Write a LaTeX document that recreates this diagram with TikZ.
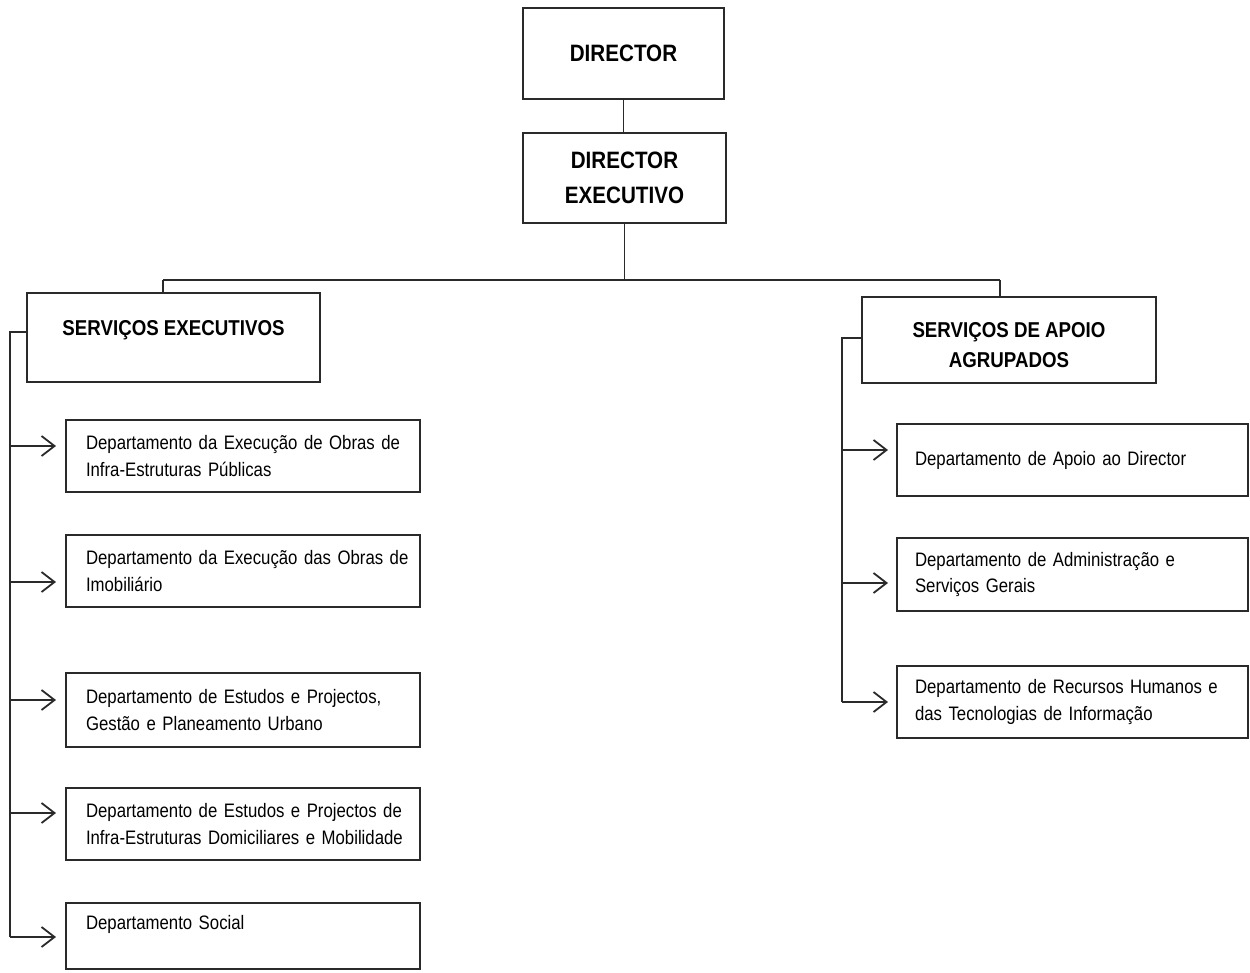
\documentclass[tikz,border=0pt]{standalone}
\usepackage{fontspec}
\setmainfont{Liberation Sans}
\newfontfamily\regf{Liberation Sans}[FakeStretch=0.86]
\newfontfamily\boldf{Liberation Sans}[FakeStretch=0.87]
\usetikzlibrary{arrows.meta,calc}
\definecolor{linec}{HTML}{2A2A2A}
\newcommand{\deptfont}{\regf\fontsize{19.5}{26.5}\selectfont\spaceskip=4pt plus 1pt minus 1pt\relax}
\begin{document}
\begin{tikzpicture}[x=1pt,y=-1pt,
  every node/.style={inner sep=0pt, outer sep=0pt},
  conn/.style={draw=linec, line width=1.3pt},
  arr/.style={conn, -{Straight Barb[length=13pt,width=20pt,line width=1.8pt]}, line width=1.8pt},
  hbox/.style={draw=linec, line width=1.3pt, align=center,
    font=\boldf\bfseries\fontsize{23.7}{35}\selectfont},
  sbox/.style={draw=linec, line width=1.3pt, align=center,
    font=\boldf\bfseries\fontsize{21.5}{30}\selectfont},
  lbox/.style={draw=linec, line width=1.3pt, align=left, inner xsep=20pt,
    text width=314pt, font=\deptfont},
  rbox/.style={draw=linec, line width=1.3pt, align=left, inner xsep=18pt,
    text width=315pt, font=\deptfont}
]
\useasboundingbox[fill=white] (0,0) rectangle (1250,972);

% top boxes
\node[hbox, minimum width=201pt, minimum height=91pt] (dir) at (623.5,53.5) {DIRECTOR};
\node[hbox, minimum width=203pt, minimum height=90pt] (de) at (624.5,178) {DIRECTOR\\EXECUTIVO};

% service boxes
\node[sbox, minimum width=293pt, minimum height=89pt, text height=15pt, text depth=20pt] (se) at (173.5,337.5) {SERVI\c{C}OS EXECUTIVOS};
\node[sbox, minimum width=294pt, minimum height=86pt] (sda) at (1009,340) {\rule{0pt}{25pt}SERVI\c{C}OS DE APOIO\\AGRUPADOS};

% left departments
\node[lbox, minimum height=72pt] (b1) at (243,456) {\mbox{Departamento da Execução de Obras de}\\\mbox{Infra-Estruturas Públicas}};
\node[lbox, minimum height=72pt] (b2) at (243,571) {\mbox{Departamento da Execução das Obras de}\\\mbox{Imobiliário}};
\node[lbox, minimum height=74pt] (b3) at (243,710) {\mbox{Departamento de Estudos e Projectos,}\\\mbox{Gestão e Planeamento Urbano}};
\node[lbox, minimum height=72pt] (b4) at (243,824) {\mbox{Departamento de Estudos e Projectos de}\\\mbox{Infra-Estruturas Domiciliares e Mobilidade}};
\node[lbox, minimum height=66pt] (b5) at (243,936) {\mbox{Departamento Social}\\\mbox{}};

% right departments
\node[rbox, minimum height=72pt] (ra) at (1072.5,460) {\mbox{Departamento de Apoio ao Director}};
\node[rbox, minimum height=73pt] (rb) at (1072.5,574.5) {\mbox{Departamento de Administração e}\\\mbox{Serviços Gerais}};
\node[rbox, minimum height=72pt] (rc) at (1072.5,702) {\mbox{Departamento de Recursos Humanos e}\\\mbox{das Tecnologias de Informação}};

% top connectors
\coordinate (bl) at (163,280);
\coordinate (br) at (1000,280);
\draw[conn] (dir.south) -- (dir.south |- de.north);
\draw[conn] (de.south) -- (de.south |- bl);
\draw[conn] (bl) -- (br);
\draw[conn] (bl) -- (bl |- se.north);
\draw[conn] (br) -- (br |- sda.north);

% left trunk
\coordinate (sew) at ([yshift=5.5pt]se.west);
\coordinate (tl) at ([xshift=-17pt]sew);
\coordinate (a1) at ([xshift=-10pt,yshift=10pt]b1.west);
\coordinate (a2) at ([xshift=-10pt,yshift=-11pt]b2.west);
\coordinate (a3) at ([xshift=-10pt,yshift=10pt]b3.west);
\coordinate (a4) at ([xshift=-10pt,yshift=11pt]b4.west);
\coordinate (a5) at ([xshift=-10pt,yshift=-1pt]b5.west);
\draw[conn] (sew) -- (tl) -- (tl |- a5);
\draw[arr] (a1 -| tl) -- (a1);
\draw[arr] (a2 -| tl) -- (a2);
\draw[arr] (a3 -| tl) -- (a3);
\draw[arr] (a4 -| tl) -- (a4);
\draw[arr] (a5 -| tl) -- (a5);

% right trunk
\coordinate (sdaw) at ([yshift=2pt]sda.west);
\coordinate (tr) at ([xshift=-20pt]sdaw);
\coordinate (c1) at ([xshift=-9pt,yshift=10pt]ra.west);
\coordinate (c2) at ([xshift=-9pt,yshift=-8.5pt]rb.west);
\coordinate (c3) at ([xshift=-9pt]rc.west);
\draw[conn] (sdaw) -- (tr) -- (tr |- c3);
\draw[arr] (c1 -| tr) -- (c1);
\draw[arr] (c2 -| tr) -- (c2);
\draw[arr] (c3 -| tr) -- (c3);
\end{tikzpicture}
\end{document}
